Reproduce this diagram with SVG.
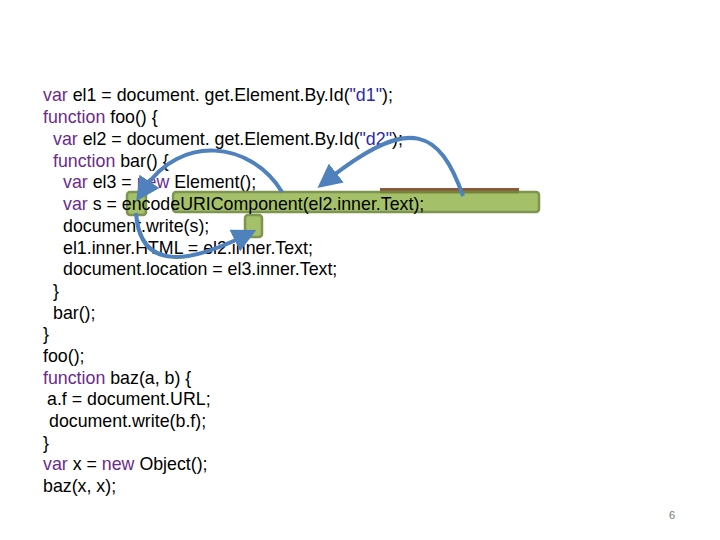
<svg xmlns="http://www.w3.org/2000/svg" width="720" height="540" viewBox="0 0 720 540">
<style>
text{font-family:"Liberation Sans",Arial,sans-serif;font-size:17.8px;fill:#000}
.k{fill:#6a2c8a}.s{fill:#2b2ba8}
.hl{fill:#9bbb59;stroke:#71893f;stroke-width:2.5;opacity:.9}
.ar{fill:none;stroke:#4f81bd;stroke-width:4;marker-end:url(#ah)}
</style>
<defs><marker id="ah" markerWidth="6" markerHeight="6" refX="2" refY="3" orient="auto" markerUnits="strokeWidth"><path d="M0,0 L6,3 L0,6 Z" fill="#4f81bd"/></marker></defs>
<rect width="720" height="540" fill="#fff"/>
<g id="code">
<text x="43" y="101"><tspan class="k">var</tspan> el1 = document. get.Element.By.Id(<tspan class="s">"d1"</tspan>);</text>
<text x="43" y="123"><tspan class="k">function</tspan> foo() {</text>
<text x="53" y="145"><tspan class="k">var</tspan> el2 = document. get.Element.By.Id(<tspan class="s">"d2"</tspan>);</text>
<text x="53" y="167"><tspan class="k">function</tspan> bar() {</text>
<text x="63" y="188"><tspan class="k">var</tspan> el3 = <tspan class="k">new</tspan> Element();</text>
</g>
<g id="highlights">
<rect x="380" y="188" width="139" height="6" fill="#8b5a3c"/>
<rect class="hl" x="173" y="192" width="366" height="20" rx="3"/>
<rect class="hl" x="127" y="192" width="19" height="23" rx="3"/>
<rect class="hl" x="245" y="215" width="17" height="22" rx="3"/>
</g>
<g id="code2">
<text x="63" y="210"><tspan class="k">var</tspan> s = encodeURIComponent(el2.inner.Text);</text>
<text x="63" y="232">document.write(s);</text>
<text x="63" y="254">el1.inner.HTML = el2.inner.Text;</text>
<text x="63" y="275">document.location = el3.inner.Text;</text>
<text x="53" y="297">}</text>
<text x="53" y="319">bar();</text>
<text x="43" y="340">}</text>
<text x="43" y="362">foo();</text>
<text x="43" y="384"><tspan class="k">function</tspan> baz(a, b) {</text>
<text x="47" y="405">a.f = document.URL;</text>
<text x="49" y="427">document.write(b.f);</text>
<text x="43" y="449">}</text>
<text x="43" y="470"><tspan class="k">var</tspan> x = <tspan class="k">new</tspan> Object();</text>
<text x="43" y="492">baz(x, x);</text>
<text x="669" y="519" style="font-size:11px;fill:#777">6</text>
</g>
<g id="connectors">
<path class="ar" d="M282,192 C250,140 180,135 145,188"/>
<path class="ar" d="M463,196 C440,130 410,115 330,178"/>
<path class="ar" d="M136,213 C140,275 195,260 242,237"/>
</g>
</svg>
